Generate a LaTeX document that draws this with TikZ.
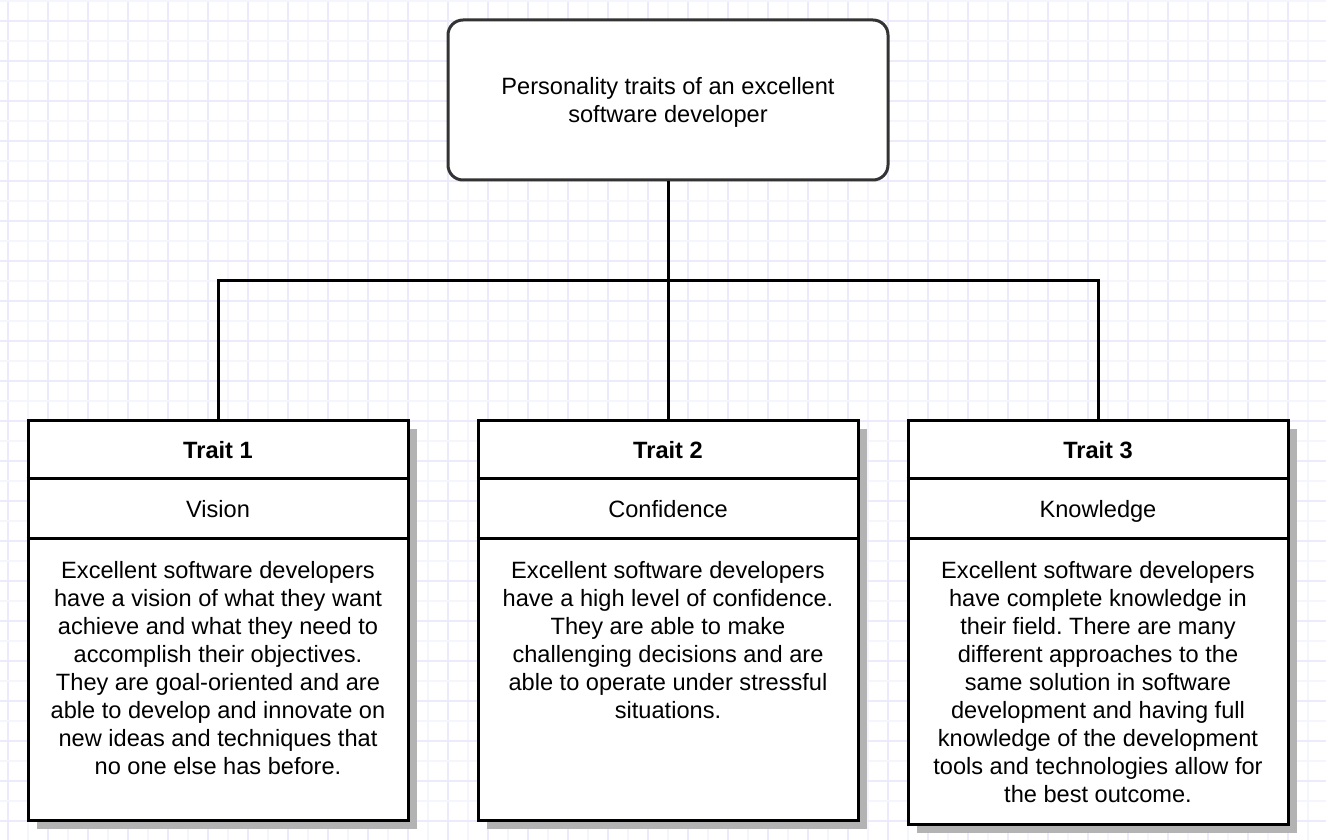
\documentclass[tikz,border=0pt]{standalone}
\usepackage{fontspec}
\setmainfont{Liberation Sans}
\usetikzlibrary{calc,shadows}
\frenchspacing
\definecolor{gridmaj}{HTML}{EBEBFC}
\definecolor{gridmin}{HTML}{F5F5FE}
\definecolor{topstroke}{HTML}{333333}
\definecolor{shadowgray}{HTML}{B3B3B3}
\begin{document}
\begin{tikzpicture}[x=1pt,y=-1pt,
  txt/.style={font=\fontsize{23.6}{28}\selectfont\frenchspacing, align=center, text=black},
  topbox/.style={draw=topstroke, line width=3pt, rounded corners=15pt, fill=white,
    minimum width=440pt, minimum height=160pt, inner sep=0pt, txt},
  traitbox/.style={draw=black, line width=3pt, fill=white, minimum width=380pt,
    inner sep=0pt, drop shadow={shadow xshift=9pt, shadow yshift=-9pt, fill=shadowgray, opacity=1}},
  divider/.style={draw=black, line width=3pt},
  conn/.style={draw=black, line width=3pt},
  celltxt/.style={txt, text height=17pt, text depth=5pt, inner sep=0pt},
  titletxt/.style={celltxt, font=\fontsize{23.6}{28}\selectfont\bfseries},
]
\useasboundingbox (0,0) rectangle (1326,840);
\fill[white] (0,0) rectangle (1326,840);
% grid
\foreach \i in {0,...,66} {
  \pgfmathsetmacro{\xx}{8+20*\i}
  \pgfmathtruncatemacro{\m}{mod(\i,2)}
  \ifnum\m=0 \draw[gridmaj, line width=1.2pt] (\xx,0) -- (\xx,840);
  \else \draw[gridmin, line width=1.2pt] (\xx,0) -- (\xx,840); \fi
}
\foreach \j in {0,...,42} {
  \pgfmathsetmacro{\yy}{1+20*\j}
  \pgfmathtruncatemacro{\m}{mod(\j,2)}
  \ifnum\m=1 \draw[gridmaj, line width=1.2pt] (0,\yy) -- (1326,\yy);
  \else \draw[gridmin, line width=1.2pt] (0,\yy) -- (1326,\yy); \fi
}

% top node
\node[topbox, text depth=0pt] (top) at (668,100) {Personality traits of an excellent\\software developer};

% trait boxes
\node[traitbox, minimum height=400pt] (t1) at (218,620) {};
\node[traitbox, minimum height=400pt] (t2) at (668,620) {};
\node[traitbox, minimum height=404pt] (t3) at (1098,622) {};

% dividers
\foreach \t in {t1,t2,t3} {
  \draw[divider] ($(\t.north west)+(0,60)$) -- ($(\t.north east)+(0,60)$);
  \draw[divider] ($(\t.north west)+(0,120)$) -- ($(\t.north east)+(0,120)$);
}

% titles
\node[titletxt] (t1h) at (218,452) {Trait 1};
\node[titletxt] (t2h) at (668,452) {Trait 2};
\node[titletxt] (t3h) at (1098,452) {Trait 3};
\node[celltxt] (t1s) at (218,511) {Vision};
\node[celltxt] (t2s) at (668,511) {Confidence};
\node[celltxt] (t3s) at (1098,511) {Knowledge};

% bodies
\node[txt, anchor=north] (t1b) at (218,558) {Excellent software developers\\have a vision of what they want\\achieve and what they need to\\accomplish their objectives.\\They are goal-oriented and are\\able to develop and innovate on\\new ideas and techniques that\\no one else has before.};
\node[txt, anchor=north] (t2b) at (668,558) {Excellent software developers\\have a high level of confidence.\\They are able to make\\challenging decisions and are\\able to operate under stressful\\situations.};
\node[txt, anchor=north] (t3b) at (1098,558) {Excellent software developers\\have complete knowledge in\\their field. There are many\\different approaches to the\\same solution in software\\development and having full\\knowledge of the development\\tools and technologies allow for\\the best outcome.};

% connectors
\coordinate (j) at (668,280);
\draw[conn] (top.south) -- (t2.north);
\draw[conn] (t1.north) |- (j) -| (t3.north);
\end{tikzpicture}
\end{document}
